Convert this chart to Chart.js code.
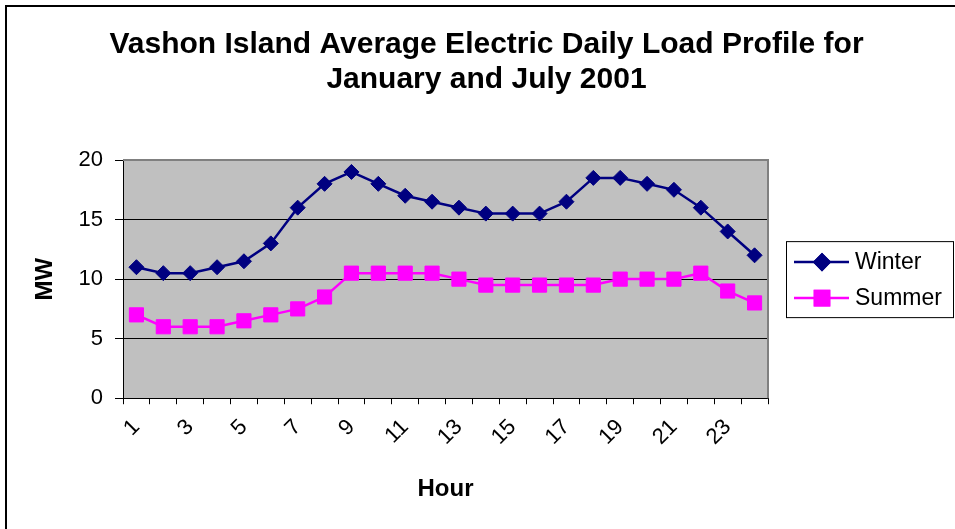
<!DOCTYPE html>
<html>
<head>
<meta charset="utf-8">
<title>Vashon Island Load Profile</title>
<script src="https://cdn.jsdelivr.net/npm/chart.js@4.4.0/dist/chart.umd.min.js"></script>
<style>
  html, body { margin: 0; padding: 0; background: #fff; }
  #wrap { width: 955px; height: 529px; position: relative; }
</style>
</head>
<body>
<div id="wrap"><canvas id="loadChart" width="955" height="529"></canvas></div>
<script>
// Chart data
const hours = ['1','2','3','4','5','6','7','8','9','10','11','12','13','14','15','16','17','18','19','20','21','22','23','24'];
const winterLoad = [11, 10.5, 10.5, 11, 11.5, 13, 16, 18, 19, 18, 17, 16.5, 16, 15.5, 15.5, 15.5, 16.5, 18.5, 18.5, 18, 17.5, 16, 14, 12];
const summerLoad = [7, 6, 6, 6, 6.5, 7, 7.5, 8.5, 10.5, 10.5, 10.5, 10.5, 10, 9.5, 9.5, 9.5, 9.5, 9.5, 10, 10, 10, 10.5, 9, 8];
const mwTicks = [0, 5, 10, 15, 20];

const FONT = "'Liberation Sans', Arial, sans-serif";

// grey plot area, frame and the outer border
const plotBackground = {
    id: 'plotBackground',
    beforeDraw(chart) {
        const { ctx, chartArea: a } = chart;
        ctx.save();
        ctx.fillStyle = '#C0C0C0';
        ctx.fillRect(a.left, a.top, a.width, a.height);
        // outer chart border (only top and left visible in the original)
        ctx.strokeStyle = '#000';
        ctx.lineWidth = 2;
        ctx.beginPath();
        ctx.moveTo(6, chart.height);
        ctx.lineTo(6, 6);
        ctx.lineTo(chart.width, 6);
        ctx.stroke();
        ctx.restore();
    },
    afterDatasetsDraw(chart) {
        const { ctx, chartArea: a } = chart;
        ctx.save();
        ctx.strokeStyle = '#808080';
        ctx.lineWidth = 2;
        ctx.beginPath();
        ctx.moveTo(a.left, a.top);
        ctx.lineTo(a.right, a.top);
        ctx.lineTo(a.right, a.bottom);
        ctx.stroke();
        ctx.restore();
    }
};

// boxed legend with line + marker samples
const boxedLegend = {
    id: 'boxedLegend',
    afterDraw(chart) {
        const { ctx, chartArea: a } = chart;
        const left = a.right + 18;
        const right = chart.width - 2;
        const midY = (a.top + a.bottom) / 2;
        const top = midY - 38, bottom = midY + 38;
        ctx.save();
        ctx.fillStyle = '#fff';
        ctx.fillRect(left, top, right - left, bottom - top);
        ctx.strokeStyle = '#000';
        ctx.lineWidth = 1;
        ctx.strokeRect(left + 0.5, top + 0.5, right - left, bottom - top);
        ctx.font = '23px ' + FONT;
        ctx.textBaseline = 'middle';
        chart.data.datasets.forEach((ds, i) => {
            const y = top + 21 + i * 36;
            ctx.strokeStyle = ds.borderColor;
            ctx.lineWidth = 2.5;
            ctx.beginPath();
            ctx.moveTo(left + 8, y);
            ctx.lineTo(left + 63, y);
            ctx.stroke();
            Chart.helpers.drawPoint(ctx, {
                pointStyle: ds.pointStyle,
                radius: ds.pointRadius,
                borderWidth: 1,
                rotation: 0
            }, left + 36, y);
            ctx.fillStyle = ds.pointBackgroundColor;
            ctx.strokeStyle = ds.pointBorderColor;
            ctx.fill();
            ctx.stroke();
            ctx.fillStyle = '#000';
            ctx.fillText(ds.label, left + 69, y + 1);
        });
        ctx.restore();
    }
};

const ctx = document.getElementById('loadChart').getContext('2d');
const chart = new Chart(ctx, {
    type: 'line',
    data: {
        labels: hours,
        datasets: [{
            label: 'Winter',
            data: winterLoad,
            borderColor: '#000080',
            backgroundColor: '#000080',
            pointBackgroundColor: '#000080',
            pointBorderColor: '#000080',
            pointStyle: 'rectRot',
            pointRadius: 7.5,
            pointBorderWidth: 1,
            borderWidth: 2.5,
            tension: 0
        }, {
            label: 'Summer',
            data: summerLoad,
            borderColor: '#FF00FF',
            backgroundColor: '#FF00FF',
            pointBackgroundColor: '#FF00FF',
            pointBorderColor: '#FF00FF',
            pointStyle: 'rect',
            pointRadius: 10,
            pointBorderWidth: 1,
            borderWidth: 2.5,
            tension: 0
        }]
    },
    options: {
        responsive: false,
        animation: false,
        layout: { padding: { left: 18, right: 0, top: 0, bottom: 25 } },
        plugins: {
            legend: { display: false },
            tooltip: { enabled: false },
            title: {
                display: true,
                text: ['Vashon Island Average Electric Daily Load Profile for', 'January and July 2001'],
                color: '#000',
                font: { family: FONT, size: 30, weight: 'bold', lineHeight: 1.167 },
                padding: { top: 27, bottom: 63 }
            }
        },
        scales: {
            x: {
                offset: true,
                grid: {
                    offset: true,
                    drawOnChartArea: false,
                    color: '#000',
                    tickLength: 6,
                    tickColor: '#000'
                },
                border: { color: '#000', width: 1 },
                ticks: {
                    autoSkip: false,
                    maxRotation: 45,
                    minRotation: 45,
                    padding: 10,
                    color: '#000',
                    font: { family: FONT, size: 22 },
                    callback: function(value, index) {
                        return index % 2 === 0 ? hours[index] : '';
                    }
                },
                title: {
                    display: true,
                    text: 'Hour',
                    color: '#000',
                    font: { family: FONT, size: 24, weight: 'bold' },
                    padding: { top: 15, bottom: 0 }
                }
            },
            y: {
                min: 0,
                max: 20,
                afterBuildTicks: function(scale) {
                    scale.ticks = mwTicks.map(v => ({ value: v }));
                },
                afterFit: function(scale) { scale.width = 105; },
                grid: {
                    color: '#000',
                    tickLength: 8,
                    tickColor: '#000'
                },
                border: { color: '#000', width: 1 },
                ticks: {
                    padding: 12,
                    color: '#000',
                    font: { family: FONT, size: 22 }
                },
                title: {
                    display: true,
                    text: 'MW',
                    color: '#000',
                    font: { family: FONT, size: 24, weight: 'bold' },
                    padding: { top: 13, bottom: 0 }
                }
            },
            legendSpace: {
                position: 'right',
                display: true,
                grid: { display: false },
                border: { display: false },
                ticks: { display: false },
                afterFit: function(scale) { scale.width = 187; }
            }
        }
    },
    plugins: [plotBackground, boxedLegend]
});
</script>
</body>
</html>
